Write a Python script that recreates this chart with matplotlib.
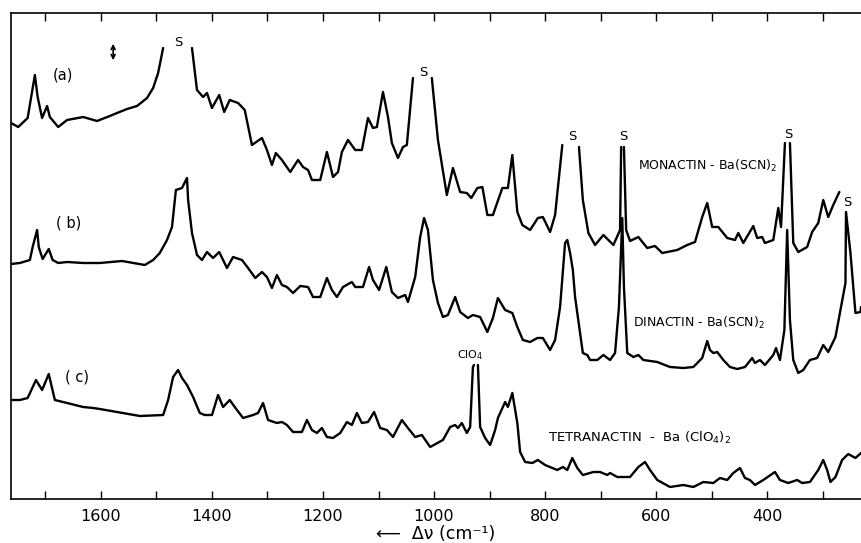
import numpy as np
import matplotlib
matplotlib.use("Agg")
import matplotlib.pyplot as plt
from matplotlib.ticker import MultipleLocator

nan = np.nan

# Raman shift (cm^-1) and relative intensity (arbitrary units, offset traces)
nu_a = [1762, 1749, 1732, 1719, 1714, 1706, 1697, 1692, 1677, 1661, 1632, 1607, 1584, 1571, 1553, 1535,
        1517, 1506, 1497, 1488, nan,
        1436, 1427, 1416, 1409, 1400, 1387, 1378, 1368, 1353, 1341, 1328, 1310, 1301, 1292, 1285, 1274,
        1259, 1245, 1236, 1227, 1220, 1205, 1193, 1182, 1173, 1166, 1155, 1142, 1130, 1119, 1110, 1103,
        1092, 1083, 1076, 1065, 1056, 1049, 1038, nan,
        1004, 993, 977, 966, 953, 941, 933, 922, 913, 904, 894, 877, 867, 859, 850, 841, 827, 813, 804,
        791, 782, 769, nan,
        739, 732, 722, 710, 695, 677, 665, 663, nan,
        658, 654, 647, 632, 616, 602, 589, 562, 544, 530, 517, 508, 499, 488, 472, 458, 452, 443, 425,
        418, 409, 404, 389, 380, 375, 368, nan,
        359, 353, 344, 328, 319, 308, 299, 290, 281, 270]
int_a = [376, 372, 381, 424, 402, 381, 393, 382, 372, 379, 382, 378, 383, 386, 390, 393,
         401, 411, 426, 451, nan,
         451, 409, 402, 406, 391, 404, 387, 399, 396, 389, 354, 361, 349, 334, 346, 339,
         327, 339, 332, 329, 319, 319, 347, 322, 327, 347, 359, 349, 349, 381, 371, 372,
         407, 382, 356, 341, 352, 354, 421, nan,
         421, 359, 304, 331, 307, 306, 301, 311, 312, 284, 284, 311, 311, 344, 287, 274, 269, 281, 282,
         267, 284, 354, nan,
         352, 299, 266, 254, 264, 254, 269, 352, nan,
         352, 269, 258, 262, 251, 253, 246, 249, 254, 257, 282, 296, 272, 272, 261, 259, 266, 256, 273,
         261, 262, 256, 259, 291, 272, 356, nan,
         356, 256, 247, 252, 267, 276, 299, 282, 294, 307]

nu_b = [1762, 1746, 1728, 1723, 1715, 1712, 1705, 1694, 1687, 1677, 1661, 1632, 1602, 1562, 1542, 1521,
        1506, 1494, 1481, 1472, 1465, 1454, 1445, 1443, 1436, 1427, 1418, 1409, 1398, 1387, 1373, 1362,
        1346, 1335, 1322, 1310, 1301, 1292, 1283, 1274, 1265, 1254, 1241, 1227, 1218, 1205, 1193, 1184,
        1175, 1164, 1148, 1142, 1128, 1117, 1110, 1099, 1086, 1076, 1065, 1052, 1047, 1034, 1025, 1018,
        1011, 1002, 993, 984, 975, 962, 953, 939, 930, 917, 904, 894, 885, 872, 859, 850, 840, 827, 814,
        804, 791, 782, 773, 764, 760, 755, 750, 746, 737, 732, 724, 719, 706, 695, 683, 674, 667, 661,
        658, 652, 641, 632, 623, 598, 575, 551, 533, 517, 508, 503, 497, 490, 479, 467, 454, 440, 427,
        422, 413, 404, 389, 384, 377, 369, 364, 359, 353, 344, 335, 323, 310, 299, 290, 277, 268, 259,
        258, 250, 241, 232, 231]
int_b = [235, 236, 239, 252, 269, 252, 240, 250, 239, 236, 237, 236, 236, 238, 236, 234,
         239, 246, 259, 272, 309, 311, 321, 299, 266, 244, 239, 247, 241, 247, 231, 242,
         239, 231, 221, 227, 222, 211, 224, 214, 212, 206, 213, 212, 202, 202, 221, 209,
         202, 212, 217, 212, 212, 232, 219, 209, 232, 207, 201, 204, 197, 222, 262, 281,
         269, 219, 196, 182, 184, 202, 187, 181, 184, 182, 167, 181, 201, 189, 186, 172, 159, 157, 161,
         161, 149, 159, 192, 256, 259, 246, 229, 202, 166, 146, 144, 139, 139, 144, 139, 146, 192, 281,
         212, 146, 142, 144, 139, 137, 132, 131, 132, 141, 158, 149, 146, 147, 139, 132, 130, 132, 141,
         136, 139, 134, 144, 151, 139, 169, 269, 179, 139, 126, 129, 139, 141, 154, 147, 162, 189, 216,
         287, 246, 186, 187, 192]

nu_c = [1762, 1746, 1732, 1717, 1706, 1694, 1683, 1661, 1632, 1614, 1602, 1571, 1530, 1488, 1479, 1470,
        1461, 1454, 1445, 1434, 1422, 1413, 1400, 1389, 1380, 1368, 1359, 1344, 1326, 1317, 1308, 1299,
        1283, 1274, 1265, 1254, 1238, 1229, 1220, 1211, 1202, 1193, 1182, 1169, 1157, 1148, 1139, 1130,
        1119, 1108, 1097, 1085, 1074, 1058, 1047, 1034, 1022, 1007, 984, 971, 962, 957, 950, 941, 935,
        930, 928, nan,
        921, 917, 908, 899, 890, 885, 872, 867, 859, 850, 845, 836, 823, 813, 800, 778, 768, 760, 751,
        742, 732, 713, 701, 688, 683, 670, 647, 632, 620, 611, 598, 575, 551, 533, 515, 497, 485, 472,
        461, 449, 440, 431, 422, 407, 386, 377, 362, 346, 337, 323, 308, 299, 292, 286, 277, 265, 254,
        241, 231]
int_c = [99, 99, 101, 119, 109, 125, 99, 96, 92, 91, 90, 87, 83, 84, 99, 122,
         129, 121, 114, 102, 86, 84, 84, 104, 92, 99, 92, 81, 84, 86, 96, 79,
         76, 77, 74, 67, 67, 79, 69, 66, 71, 62, 61, 66, 77, 74, 86, 76,
         77, 87, 71, 69, 62, 79, 71, 62, 64, 52, 59, 72, 74, 71, 76, 66, 72,
         132, 134, nan,
         134, 72, 61, 54, 69, 81, 97, 92, 106, 76, 47, 37, 36, 39, 34, 29, 32, 29, 41,
         31, 24, 27, 27, 24, 26, 22, 22, 32, 37, 29, 19, 12, 14, 12, 17, 16, 21, 19,
         26, 31, 21, 19, 14, 19, 27, 19, 16, 19, 16, 17, 29, 39, 29, 17, 22, 39, 45,
         41, 46]

tick_values = [1600, 1400, 1200, 1000, 800, 600, 400]

fig = plt.figure(figsize=(8.61, 5.43), dpi=100)
ax = fig.add_axes([11 / 861, 44 / 543, 850 / 861, 486 / 543])

lw = 1.7
for nu, it in ((nu_a, int_a), (nu_b, int_b), (nu_c, int_c)):
    ax.plot(nu, it, color="black", lw=lw, solid_joinstyle="round", solid_capstyle="round")

ax.set_xlim(1762, 231)
ax.set_ylim(0, 486)

ax.spines["right"].set_visible(False)
for s in ("left", "bottom", "top"):
    ax.spines[s].set_linewidth(1.2)
ax.set_yticks([])
ax.set_xticks(tick_values)
ax.xaxis.set_minor_locator(MultipleLocator(100))
ax.tick_params(axis="x", which="both", direction="in", top=True, bottom=True,
               length=6, width=1.0, labelsize=11.5, pad=7)
ax.set_xticklabels([str(v) for v in tick_values])
ax.set_xlabel("\u27f5  \u0394\u03bd (cm\u207b\u00b9)", fontsize=12.5, labelpad=1)

ax.text(1668, 424, "(a)", fontsize=10.5, ha="center", va="center")
ax.text(1659, 276, "( b)", fontsize=10.5, ha="center", va="center")
ax.text(1643, 122, "( c)", fontsize=10.5, ha="center", va="center")
ax.annotate("", xy=(1578, 436), xytext=(1578, 458),
            arrowprops=dict(arrowstyle="<->", color="black", lw=1.2, mutation_scale=7))

for (x, y) in [(1461, 457), (1020, 427), (751, 362), (659, 362), (362, 364), (256, 297)]:
    ax.text(x, y, "S", fontsize=9.5, ha="center", va="center")

ax.text(632, 333, "MONACTIN - Ba(SCN)$_2$", fontsize=9, ha="left", va="center")
ax.text(641, 176, "DINACTIN - Ba(SCN)$_2$", fontsize=9, ha="left", va="center")
ax.text(935, 144, "ClO$_4$", fontsize=8, ha="center", va="center")
ax.text(795, 61, "TETRANACTIN  -  Ba (ClO$_4$)$_2$", fontsize=9.5, ha="left", va="center")

fig.savefig("out.png", dpi=100)
